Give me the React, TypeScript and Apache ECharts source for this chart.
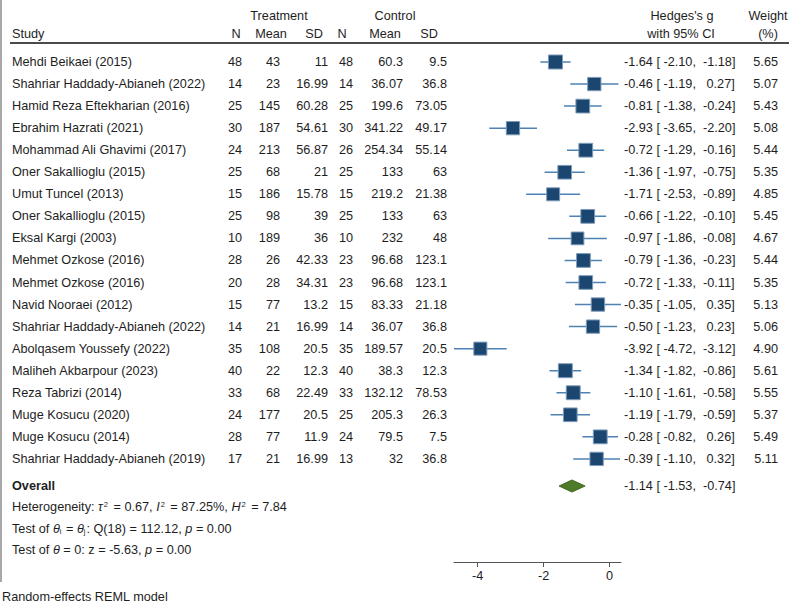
import React, { useEffect, useRef } from "react";
import * as echarts from "echarts";

// ---------------- data ----------------
const studies = [
  "Mehdi Beikaei (2015)",
  "Shahriar Haddady-Abianeh (2022)",
  "Hamid Reza Eftekharian (2016)",
  "Ebrahim Hazrati (2021)",
  "Mohammad Ali Ghavimi (2017)",
  "Oner Sakallioglu (2015)",
  "Umut Tuncel (2013)",
  "Oner Sakallioglu (2015)",
  "Eksal Kargi (2003)",
  "Mehmet Ozkose (2016)",
  "Mehmet Ozkose (2016)",
  "Navid Nooraei (2012)",
  "Shahriar Haddady-Abianeh (2022)",
  "Abolqasem Youssefy (2022)",
  "Maliheh Akbarpour (2023)",
  "Reza Tabrizi (2014)",
  "Muge Kosucu (2020)",
  "Muge Kosucu (2014)",
  "Shahriar Haddady-Abianeh (2019)",
];
const treatN = [48, 14, 25, 30, 24, 25, 15, 25, 10, 28, 20, 15, 14, 35, 40, 33, 24, 28, 17];
const treatMean = [43, 23, 145, 187, 213, 68, 186, 98, 189, 26, 28, 77, 21, 108, 22, 68, 177, 77, 21];
const treatSD = [11, 16.99, 60.28, 54.61, 56.87, 21, 15.78, 39, 36, 42.33, 34.31, 13.2, 16.99, 20.5, 12.3, 22.49, 20.5, 11.9, 16.99];
const ctrlN = [48, 14, 25, 30, 26, 25, 15, 25, 10, 23, 23, 15, 14, 35, 40, 33, 25, 24, 13];
const ctrlMean = [60.3, 36.07, 199.6, 341.22, 254.34, 133, 219.2, 133, 232, 96.68, 96.68, 83.33, 36.07, 189.57, 38.3, 132.12, 205.3, 79.5, 32];
const ctrlSD = [9.5, 36.8, 73.05, 49.17, 55.14, 63, 21.38, 63, 48, 123.1, 123.1, 21.18, 36.8, 20.5, 12.3, 78.53, 26.3, 7.5, 36.8];
const hedgesG = [-1.64, -0.46, -0.81, -2.93, -0.72, -1.36, -1.71, -0.66, -0.97, -0.79, -0.72, -0.35, -0.5, -3.92, -1.34, -1.1, -1.19, -0.28, -0.39];
const ciLow = [-2.1, -1.19, -1.38, -3.65, -1.29, -1.97, -2.53, -1.22, -1.86, -1.36, -1.33, -1.05, -1.23, -4.72, -1.82, -1.61, -1.79, -0.82, -1.1];
const ciHigh = [-1.18, 0.27, -0.24, -2.2, -0.16, -0.75, -0.89, -0.1, -0.08, -0.23, -0.11, 0.35, 0.23, -3.12, -0.86, -0.58, -0.59, 0.26, 0.32];
const weights = [5.65, 5.07, 5.43, 5.08, 5.44, 5.35, 4.85, 5.45, 4.67, 5.44, 5.35, 5.13, 5.06, 4.9, 5.61, 5.55, 5.37, 5.49, 5.11];
const overallG = -1.14;
const overallLow = -1.53;
const overallHigh = -0.74;
const xTicks = [-4, -2, 0];

// ---------------- layout / style ----------------
const W = 800;
const H = 608;
const FONT = "'Liberation Sans', Arial, Helvetica, sans-serif";
const FS = 12.7;
const TXT = "#1e1e1e";
const ROW0_PX = 62;
const ROW_STEP = 22.05;
const GRID_TOP = 42;
const AXIS_PX = 562;
const Y_MIN = (GRID_TOP - ROW0_PX) / ROW_STEP;
const Y_MAX = (AXIS_PX - ROW0_PX) / ROW_STEP;
const OVERALL_ROW = (486 - ROW0_PX) / ROW_STEP;
const X_MIN = -4.72;
const X_MAX = 0.35;

const f2 = (v: number) => v.toFixed(2);
const p6 = (v: number) => f2(v).padStart(6, " ");
const esText = (gv: number, l: number, h: number) => `${f2(gv)} [${p6(l)}, ${p6(h)}]`;

const colRight = [242, 280, 328, 353, 403, 447];
const colValues = [treatN, treatMean, treatSD, ctrlN, ctrlMean, ctrlSD];

function txt(text: string, x: number, y: number, align: string, extra: any = {}) {
  return {
    type: "text",
    x,
    y,
    silent: true,
    style: {
      text,
      fill: TXT,
      fontSize: FS,
      fontFamily: FONT,
      align,
      verticalAlign: "middle",
      ...extra,
    },
  };
}

export default function App() {
  const ref = useRef<HTMLDivElement>(null);
  useEffect(() => {
    const chart = echarts.init(ref.current!, null, { renderer: "svg" });

    const studyData = studies.map((_, i) => [hedgesG[i], i, ciLow[i], ciHigh[i], weights[i]]);
    const tableData = studies.map((_, i) => [0, i]);

    const rich = {
      n: { fontSize: FS, fontFamily: FONT, fill: TXT, color: TXT },
      it: { fontStyle: "italic", fontSize: FS, fontFamily: FONT, fill: TXT, color: TXT },
      sup: { fontSize: 7.5, fontFamily: FONT, verticalAlign: "top", fill: TXT, color: TXT, padding: [0, 2, 0, 1] },
      sub: { fontSize: 7.5, fontFamily: FONT, verticalAlign: "bottom", fill: TXT, color: TXT, padding: [0, 1, 0, 0] },
    };

    const graphic: any[] = [
      // left border
      { type: "line", silent: true, shape: { x1: 1, y1: 0, x2: 1, y2: 582 }, style: { stroke: "#a8a8a8", lineWidth: 2 } },
      // header
      txt("Treatment", 279, 16, "center"),
      txt("Control", 395, 16, "center"),
      txt("Hedges's g", 682, 16, "center"),
      txt("Weight", 768, 16, "center"),
      txt("Study", 12, 34, "left"),
      txt("N", 236, 34, "center"),
      txt("Mean", 271, 34, "center"),
      txt("SD", 314, 34, "center"),
      txt("N", 342, 34, "center"),
      txt("Mean", 385, 34, "center"),
      txt("SD", 429, 34, "center"),
      txt("with 95% CI", 681, 34, "center"),
      txt("(%)", 768, 34, "center"),
      { type: "line", silent: true, shape: { x1: 10, y1: 43, x2: 789, y2: 43 }, style: { stroke: "#4a4a4a", lineWidth: 2 } },
      // stats
      txt("{n|Heterogeneity: }{it|τ}{sup|2}{n| = 0.67, }{it|I}{sup|2}{n| = 87.25%, }{it|H}{sup|2}{n| = 7.84}", 12, 507, "left", { rich }),
      txt("{n|Test of }{it|θ}{sub|i}{n| = }{it|θ}{sub|j}{n|: Q(18) = 112.12, }{it|p}{n| = 0.00}", 12, 529, "left", { rich }),
      txt("{n|Test of }{it|θ}{n| = 0: z = -5.63, }{it|p}{n| = 0.00}", 12, 550, "left", { rich }),
      txt("Random-effects REML model", 2, 597, "left"),
    ];

    const option: any = {
      animation: false,
      grid: { left: 454, right: W - 621, top: GRID_TOP, bottom: H - AXIS_PX },
      xAxis: {
        type: "value",
        min: X_MIN,
        max: X_MAX,
        axisLine: { show: true, onZero: false, lineStyle: { color: "#555", width: 1 } },
        axisTick: { show: true, length: 5, customValues: xTicks, lineStyle: { color: "#555" } },
        axisLabel: { customValues: xTicks, fontSize: FS, color: TXT, fontFamily: FONT, margin: 7 },
        splitLine: { show: false },
      },
      yAxis: { type: "value", inverse: true, min: Y_MIN, max: Y_MAX, show: false },
      series: [
        {
          type: "custom",
          clip: false,
          data: studyData,
          encode: { x: [0, 2, 3], y: 1 },
          renderItem: (_p: any, api: any) => {
            const c = api.coord([api.value(0), api.value(1)]);
            const l = api.coord([api.value(2), api.value(1)]);
            const h = api.coord([api.value(3), api.value(1)]);
            const s = 5.9 * Math.sqrt(api.value(4));
            return {
              type: "group",
              children: [
                { type: "line", shape: { x1: l[0], y1: l[1], x2: h[0], y2: h[1] }, style: { stroke: "#4d82b3", lineWidth: 1.5 } },
                { type: "rect", shape: { x: c[0] - s / 2, y: c[1] - s / 2, width: s, height: s }, style: { fill: "#1a4670", stroke: "#7d9bb8", lineWidth: 1 } },
              ],
            };
          },
        },
        {
          type: "custom",
          clip: false,
          data: [[overallG, OVERALL_ROW, overallLow, overallHigh]],
          encode: { x: [0, 2, 3], y: 1 },
          renderItem: (_p: any, api: any) => {
            const c = api.coord([api.value(0), api.value(1)]);
            const l = api.coord([api.value(2), api.value(1)]);
            const h = api.coord([api.value(3), api.value(1)]);
            const half = 6;
            return {
              type: "group",
              children: [
                {
                  type: "polygon",
                  shape: { points: [[l[0], l[1]], [c[0], c[1] - half], [h[0], h[1]], [c[0], c[1] + half]] },
                  style: { fill: "#4f7a28", stroke: "#43691f", lineWidth: 1 },
                },
                txt("Overall", 12, c[1], "left", { fontWeight: "bold" }),
                txt(esText(overallG, overallLow, overallHigh), 624, c[1], "left"),
              ],
            };
          },
        },
        {
          type: "custom",
          clip: false,
          silent: true,
          data: tableData,
          encode: { x: 0, y: 1 },
          renderItem: (p: any, api: any) => {
            const i = p.dataIndex;
            const y = api.coord([0, api.value(1)])[1];
            const children: any[] = [txt(studies[i], 12, y, "left")];
            colValues.forEach((arr, k) => children.push(txt(String(arr[i]), colRight[k], y, "right")));
            children.push(txt(esText(hedgesG[i], ciLow[i], ciHigh[i]), 624, y, "left"));
            children.push(txt(f2(weights[i]), 778, y, "right"));
            return { type: "group", children };
          },
        },
      ],
      graphic,
    };
    chart.setOption(option);
    return () => chart.dispose();
  }, []);
  return <div ref={ref} style={{ position: "fixed", left: 0, top: 0, width: W, height: H, background: "#fff" }} />;
}
